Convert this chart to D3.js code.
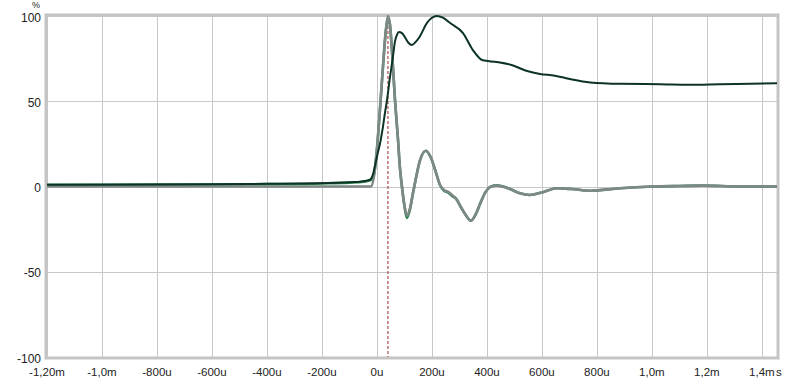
<!DOCTYPE html>
<html><head><meta charset="utf-8">
<script src="https://cdn.jsdelivr.net/npm/d3@7"></script>
<style>
body{margin:0;background:#fff;}
svg{display:block;font-family:"Liberation Sans",Arial,sans-serif;}
</style></head>
<body>
<svg id="c" width="800" height="379"></svg>
<script>
// time in microseconds
const xTicks = [-1200,-1000,-800,-600,-400,-200,0,200,400,600,800,1000,1200,1400];
const xTickLabels = ["-1,20m","-1,0m","-800u","-600u","-400u","-200u","0u","200u","400u","600u","800u","1,0m","1,2m","1,4m"];
const yTicks = [100,50,0,-50,-100];
const yTickLabels = ["100","50","0","-50","-100"];
const markerTime = 40;

// impulse (gray) and its green twin
const impT = [-1200,-21.8,-10.9,0,10.9,21.8,32.7,40,47.3,54.5,65.5,76.4,83.6,90.9,100,109,120,131,142,156,178,196,215,229,244,258,273,287,305,324,342,360,378,396,415,436,484,520,556,600,655,709,775,884,1004,1102,1185,1320,1455];
const grayV = [0,0,6,22,45,70,92,100,95,80,51,28,11,0,-11,-17,-13,-4,5,15,21,17,8,1,-2,-3,-5,-7,-12,-17,-20,-16,-9,-3,0,0.5,-1.5,-4,-5,-3.5,-1,-1.5,-2.5,-1,0,0.3,0.5,0,0];
const greenT = [-1200,-800,-400,-200,-100,-50,-25,-10.9,0,10.9,21.8,32.7,40,47.3,54.5,65.5,76.4,83.6,90.9,100,109,120,131,142,156,178,196,215,229,244,258,273,287,305,324,342,360,378,396,415,436,484,520,556,600,655,709,775,884,1004,1102,1185,1320,1455];
const greenV = [1,1.1,1.4,1.8,2.3,2.8,3.6,7,22,45,70,92,99,95,80,51,28,11,0,-11.5,-18.5,-13.5,-4,5,15,21,17,8,1,-2.5,-3.5,-5.5,-7,-12,-17,-20,-16,-9,-3,0,0.7,-1.5,-4,-5,-3.5,-1,-1.5,-2.5,-1,0,0.3,0.5,0,0];

// step response (dark)
const stepT = [-1200,-825,-462,-171,-80,-44,-25,-14.5,-7.3,3.6,10.9,21.8,29,36,47.3,58,65.5,73,80,91,102,116,127,142,156,182,200,218,240,265,313,349,385,436,495,540,593,647,702,775,884,1029,1138,1247,1455];
const stepV = [1,1.2,1.5,2,2.6,3.2,4,7,12,20,25,35,43,50,64,76,85,89,90.6,90,87.5,84,83,85,88,96,99,100,99,96,90,80,74,73,71,68,66,65,63,61,60.2,60,59.7,60,60.5];

const svg = d3.select("#c");
const L=47, R=777, T=16, B=357;
const x = d3.scaleLinear().domain([-1200,1455]).range([L,R]);
const y = d3.scaleLinear().domain([-100,100]).range([B,T]);

// grid
svg.append("g").selectAll("line").data(xTicks).join("line")
  .attr("x1",d=>Math.round(x(d))+0.5).attr("x2",d=>Math.round(x(d))+0.5)
  .attr("y1",T).attr("y2",B).attr("stroke","#c8c8c8").attr("stroke-width",1);
svg.append("g").selectAll("line").data(yTicks).join("line")
  .attr("x1",L).attr("x2",R)
  .attr("y1",d=>Math.round(y(d))+0.5).attr("y2",d=>Math.round(y(d))+0.5)
  .attr("stroke","#c8c8c8").attr("stroke-width",1);

// frame
svg.append("rect").attr("x",L-1).attr("y",T-1).attr("width",R-L+2).attr("height",B-T+2)
  .attr("fill","none").attr("stroke","#c4c4c4").attr("stroke-width",3);
svg.append("rect").attr("x",L-2.5).attr("y",T-2.5).attr("width",R-L+5).attr("height",B-T+5)
  .attr("fill","none").attr("stroke","#e2e2e2").attr("stroke-width",1);

// axes labels
svg.append("g").selectAll("text").data(xTicks).join("text")
  .attr("x",d=>x(d)).attr("y",376).attr("text-anchor","middle")
  .attr("font-size",11.5).attr("fill","#222")
  .text((d,i)=>xTickLabels[i]);
svg.append("text").attr("x",776).attr("y",376).attr("font-size",11.5).attr("fill","#222").text("s");
svg.append("g").selectAll("text").data(yTicks).join("text")
  .attr("x",41).attr("y",d=>y(d)+5.5).attr("text-anchor","end")
  .attr("font-size",12).attr("fill","#222")
  .text((d,i)=>yTickLabels[i]);
svg.append("text").attr("x",36).attr("y",8.3).attr("text-anchor","middle")
  .attr("font-size",9).attr("fill","#222").text("%");

const clip = svg.append("clipPath").attr("id","pc").append("rect")
  .attr("x",L).attr("y",T-2).attr("width",R-L).attr("height",B-T+4);
const plot = svg.append("g").attr("clip-path","url(#pc)");

// marker
plot.append("line").attr("x1",x(markerTime)).attr("x2",x(markerTime))
  .attr("y1",T).attr("y2",B).attr("stroke","#9b2a2a").attr("stroke-width",1)
  .attr("stroke-dasharray","3,2");

const mk = (ts,vs)=>d3.line().x((d,i)=>x(ts[i])).y((d,i)=>y(vs[i])).curve(d3.curveMonotoneX)(vs);

plot.append("path").attr("d",mk(greenT,greenV)).attr("fill","none")
  .attr("stroke","#2e8a56").attr("stroke-width",2.6).attr("stroke-linejoin","round");
plot.append("path").attr("d",mk(impT,grayV)).attr("fill","none")
  .attr("stroke","#7e8884").attr("stroke-width",2.6).attr("stroke-linejoin","round");
plot.append("path").attr("d",mk(stepT,stepV)).attr("fill","none")
  .attr("stroke","#0c3323").attr("stroke-width",2).attr("stroke-linejoin","round");
</script>
</body></html>
